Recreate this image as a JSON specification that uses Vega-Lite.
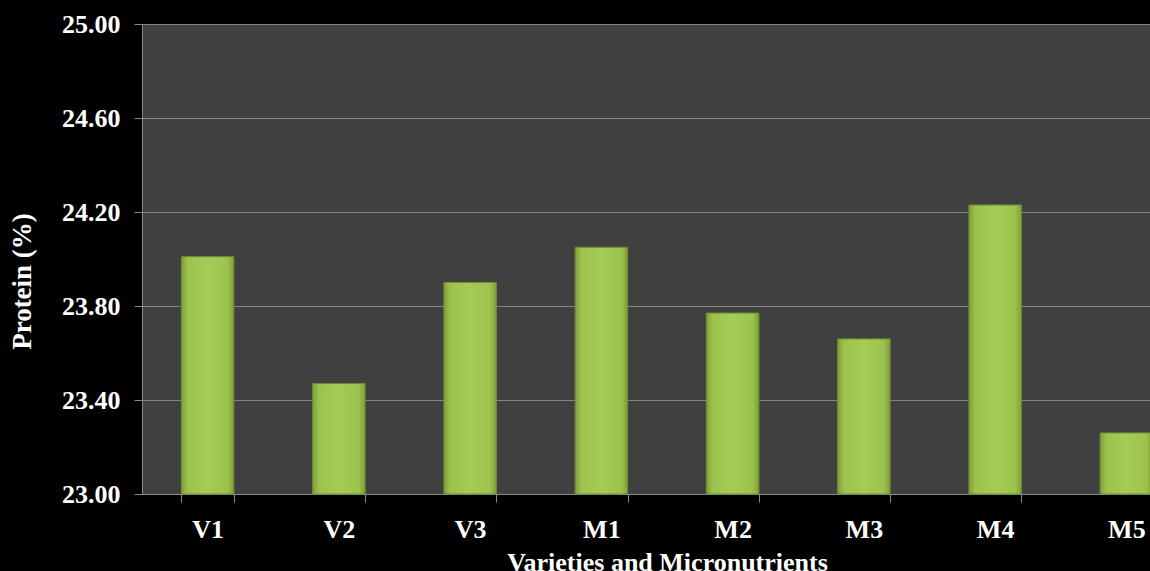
{
  "$schema": "https://vega.github.io/schema/vega-lite/v6.json",
  "autosize": {"type": "none"},
  "padding": {"left": 142, "top": 24, "right": 0, "bottom": 77},
  "width": 1008,
  "height": 470,
  "background": "black",
  "config": {
    "view": {"fill": "#404040", "stroke": null},
    "font": "Liberation Serif",
    "axis": {
      "labelFont": "Liberation Serif",
      "titleFont": "Liberation Serif",
      "labelColor": "white",
      "titleColor": "white",
      "labelFontWeight": "bold",
      "titleFontWeight": "bold",
      "domainColor": "#8a8a8a",
      "tickColor": "#8a8a8a",
      "gridColor": "#858585",
      "gridOpacity": 1,
      "gridWidth": 1.2
    }
  },
  "data": {
    "values": [
      {"group": "V1", "protein": 24.01},
      {"group": "V2", "protein": 23.47},
      {"group": "V3", "protein": 23.90},
      {"group": "M1", "protein": 24.05},
      {"group": "M2", "protein": 23.77},
      {"group": "M3", "protein": 23.66},
      {"group": "M4", "protein": 24.23},
      {"group": "M5", "protein": 23.26}
    ]
  },
  "mark": {
    "type": "bar",
    "stroke": "#6f8c30",
    "strokeWidth": 1,
    "color": {
      "gradient": "linear",
      "x1": 0, "x2": 1, "y1": 0, "y2": 0,
      "stops": [
        {"offset": 0, "color": "#7f9e38"},
        {"offset": 0.12, "color": "#9cc24e"},
        {"offset": 0.5, "color": "#a5cc57"},
        {"offset": 0.88, "color": "#9cc24e"},
        {"offset": 1, "color": "#7f9e38"}
      ]
    }
  },
  "encoding": {
    "y": {
      "field": "protein",
      "type": "quantitative",
      "scale": {"domain": [23, 25], "nice": false, "zero": false},
      "axis": {
        "values": [23, 23.4, 23.8, 24.2, 24.6, 25],
        "format": ".2f",
        "grid": true,
        "tickSize": 8,
        "labelPadding": 14,
        "labelFontSize": 26,
        "title": "Protein (%)",
        "titleFontSize": 27,
        "titleAngle": -90,
        "titleAlign": "center",
        "titleBaseline": "middle",
        "titleX": -120,
        "titleY": 257
      }
    },
    "y2": {"datum": 23},
    "x": {
      "field": "group",
      "type": "nominal",
      "sort": null,
      "scale": {"range": [0, 1050], "paddingInner": 0.6, "paddingOuter": 0.3},
      "axis": {
        "orient": "bottom",
        "ticks": true,
        "tickBand": "extent",
        "tickSize": 8,
        "domain": true,
        "labelAngle": 0,
        "labelPadding": 14,
        "labelBaseline": "top",
        "labelFontSize": 26,
        "title": "Varieties and Micronutrients",
        "titleFontSize": 26,
        "titleBaseline": "top",
        "titleAlign": "center",
        "titleX": 525,
        "titleY": 55
      }
    }
  }
}
